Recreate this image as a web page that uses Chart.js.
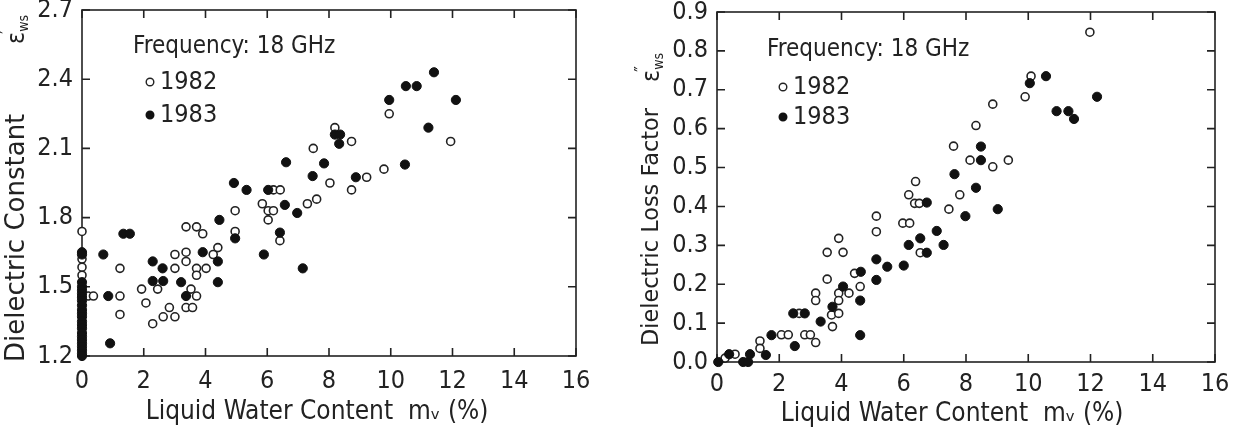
<!DOCTYPE html>
<html lang="en">
<head>
<meta charset="UTF-8">
<title>Dielectric constant and loss factor of wet snow, 18 GHz</title>
<script src="https://cdn.jsdelivr.net/npm/chart.js"></script>
<style>
  body { margin: 0; background: #fff; }
  canvas { position: absolute; top: 0; }
  #leftChart { left: 0; }
  #rightChart { left: 600px; }
</style>
</head>
<body>
<canvas id="leftChart" width="600" height="433"></canvas>
<canvas id="rightChart" width="637" height="433"></canvas>
<script>
// x axis shared by both panels
const xTickValues = [0, 2, 4, 6, 8, 10, 12, 14, 16];
const constTickValues = [1.2, 1.5, 1.8, 2.1, 2.4, 2.7];
const lossTickValues = [0, 0.1, 0.2, 0.3, 0.4, 0.5, 0.6, 0.7, 0.8, 0.9];

// left panel: dielectric constant, 1982 (open circles)
const const82X = [0, 0, 0, 0, 0, 0.2, 0.37,
  1.23, 1.23, 1.23, 1.93, 2.07, 2.29, 2.45, 2.63, 2.83, 3.01, 3.01, 3.01,
  3.37, 3.37, 3.37, 3.71, 3.91, 3.71, 3.71, 4.02, 3.53, 3.71, 3.37, 3.58,
  4.25, 4.4, 4.96, 4.96, 5.84, 6.03, 6.2, 6.03, 6.2, 6.42, 6.41, 7.3, 7.6,
  7.49, 8.03, 8.73, 9.22, 9.78, 8.19, 8.73, 9.95, 11.94];
const const82Y = [1.74, 1.62, 1.585, 1.55, 1.46, 1.46, 1.46,
  1.58, 1.46, 1.38, 1.49, 1.43, 1.34, 1.49, 1.37, 1.41, 1.37, 1.64, 1.58,
  1.65, 1.61, 1.76, 1.76, 1.73, 1.58, 1.55, 1.58, 1.49, 1.46, 1.41, 1.41,
  1.64, 1.67, 1.83, 1.74, 1.86, 1.83, 1.83, 1.79, 1.92, 1.92, 1.70, 1.86, 1.88,
  2.10, 1.95, 1.92, 1.975, 2.01, 2.19, 2.13, 2.25, 2.13];

// left panel: dielectric constant, 1983 (filled circles)
const const83X = [0, 0, 0, 0, 0, 0, 0, 0, 0, 0, 0, 0, 0, 0, 0, 0, 0, 0, 0, 0, 0, 0, 0,
  0.69, 1.34, 1.55, 0.85, 0.91, 2.29, 2.29, 2.63, 2.61, 3.21, 3.91, 3.37,
  4.4, 4.4, 4.45, 4.92, 4.96, 5.33, 5.89, 6.03, 6.57, 6.41, 7.15, 6.97,
  6.61, 7.47, 7.84, 8.87, 10.46, 8.19, 8.36, 8.33, 9.95, 10.49, 10.84,
  11.4, 11.22, 12.11];
const const83Y = [1.65, 1.64, 1.52, 1.50, 1.485, 1.47, 1.455, 1.44, 1.42, 1.40,
  1.385, 1.37, 1.35, 1.335, 1.32, 1.30, 1.285, 1.27, 1.255, 1.24, 1.225, 1.21, 1.20,
  1.64, 1.73, 1.73, 1.46, 1.255, 1.61, 1.525, 1.525, 1.58, 1.52, 1.65, 1.46,
  1.61, 1.52, 1.79, 1.95, 1.71, 1.92, 1.64, 1.92, 1.855, 1.735, 1.58, 1.82,
  2.04, 1.98, 2.035, 1.975, 2.03, 2.16, 2.16, 2.12, 2.31, 2.37, 2.37,
  2.43, 2.19, 2.31];

// right panel: loss factor, 1982
const loss82X = [0.26, 0.58, 1.38, 1.38, 2.07, 2.29, 2.64, 2.82, 3.0, 3.17, 3.17, 3.17,
  3.68, 3.71, 3.54, 3.54, 3.91, 4.05, 3.91, 3.91, 3.91, 4.24, 4.42, 4.6,
  5.12, 5.12, 5.97, 6.19, 6.16, 6.38, 6.35, 6.5, 6.53, 7.45, 7.8, 7.6,
  8.32, 8.86, 8.13, 9.36, 8.86, 9.9, 10.09, 11.98];
const loss82Y = [0.01, 0.02, 0.054, 0.035, 0.07, 0.07, 0.125, 0.07, 0.07, 0.05, 0.177, 0.158,
  0.121, 0.091, 0.213, 0.282, 0.318, 0.282, 0.177, 0.158, 0.125, 0.177, 0.228, 0.194,
  0.375, 0.335, 0.357, 0.357, 0.43, 0.464, 0.408, 0.408, 0.281, 0.393, 0.43, 0.555,
  0.608, 0.663, 0.519, 0.519, 0.502, 0.682, 0.735, 0.848];

// right panel: loss factor, 1983
const loss83X = [0.04, 0.39, 0.84, 1.0, 1.06, 1.57, 1.75, 2.5, 2.45, 2.82, 3.33, 3.71,
  4.05, 4.62, 4.6, 4.6, 5.12, 5.12, 5.47, 6.0, 6.16, 6.74, 6.53, 6.74, 7.06, 7.28,
  7.63, 8.48, 8.48, 8.32, 7.98, 9.02, 10.05, 10.57, 12.21, 10.91, 11.29, 11.47];
const loss83Y = [0.0, 0.02, 0.0, 0.0, 0.02, 0.018, 0.069, 0.041, 0.125, 0.125, 0.104, 0.142,
  0.194, 0.232, 0.158, 0.069, 0.264, 0.211, 0.245, 0.248, 0.301, 0.41, 0.318, 0.281, 0.337, 0.301,
  0.483, 0.554, 0.519, 0.448, 0.375, 0.393, 0.717, 0.735, 0.682, 0.645, 0.645, 0.625];

const FONT = "'DejaVu Sans Condensed', 'DejaVu Sans', sans-serif";
const WIDE = "'DejaVu Sans', sans-serif";
const INK = '#222';
Chart.defaults.font.family = FONT;
Chart.defaults.color = INK;

function toPoints(xs, ys) {
  return xs.map((x, i) => ({ x: x, y: ys[i] }));
}

// box with inward tick marks on all four sides, legend text and axis titles
const framePlugin = {
  id: 'frame',
  beforeDatasetsDraw(chart) {
    const { ctx, chartArea: a, scales } = chart;
    const len = 8;
    ctx.save();
    ctx.strokeStyle = INK;
    ctx.lineWidth = 1.6;
    ctx.strokeRect(a.left, a.top, a.width, a.height);
    ctx.beginPath();
    scales.x.ticks.forEach(t => {
      const px = scales.x.getPixelForValue(t.value);
      ctx.moveTo(px, a.bottom); ctx.lineTo(px, a.bottom - len);
      ctx.moveTo(px, a.top); ctx.lineTo(px, a.top + len);
    });
    scales.y.ticks.forEach(t => {
      const py = scales.y.getPixelForValue(t.value);
      ctx.moveTo(a.left, py); ctx.lineTo(a.left + len, py);
      ctx.moveTo(a.right, py); ctx.lineTo(a.right - len, py);
    });
    ctx.stroke();
    ctx.restore();
  },
  afterDraw(chart, args, opts) {
    const { ctx, chartArea: a } = chart;
    ctx.save();
    ctx.fillStyle = INK;
    ctx.font = '24px ' + FONT;
    ctx.textBaseline = 'middle';
    ctx.fillText('Frequency: 18 GHz', a.left + opts.noteX, a.top + opts.noteY);

    chart.data.datasets.forEach((ds, i) => {
      const mx = a.left + opts.keyX;
      const my = a.top + opts.keyY + i * opts.keyGap;
      ctx.beginPath();
      ctx.arc(mx, my, 3.8, 0, Math.PI * 2);
      ctx.fillStyle = ds.backgroundColor;
      ctx.fill();
      ctx.lineWidth = 1.4;
      ctx.strokeStyle = ds.borderColor;
      ctx.stroke();
      ctx.fillStyle = INK;
      ctx.font = '25px ' + FONT;
      ctx.fillText(ds.label, mx + 10, my);
    });

    // x title, a little left of the plot centre as in the original
    ctx.font = '26px ' + FONT;
    ctx.textAlign = 'center';
    ctx.fillText('Liquid Water Content  mᵥ (%)', (a.left + a.right) / 2 + opts.xTitleShift, opts.xTitleY);
    ctx.restore();

    // rotated y title, read bottom to top; the symbol sits apart near the top
    ctx.save();
    ctx.fillStyle = INK;
    ctx.textBaseline = 'middle';
    ctx.translate(opts.titleX, 0);
    ctx.rotate(-Math.PI / 2);
    ctx.font = '22px ' + WIDE;
    const size = 22 * opts.titleLen / ctx.measureText(opts.yTitle).width;
    ctx.font = size.toFixed(1) + 'px ' + WIDE;
    ctx.fillText(opts.yTitle, -opts.titleStart, 0);
    ctx.font = '25px ' + FONT;
    ctx.fillText('ε', -opts.symStart, 0);
    const ew = ctx.measureText('ε').width;
    ctx.font = '17px ' + FONT;
    ctx.fillText(opts.prime, -opts.symStart + ew - 2, -9);
    ctx.font = '14px ' + FONT;
    ctx.fillText('ws', -opts.symStart + ew, 7);
    ctx.restore();
  }
};

function makeChart(id, cfg) {
  return new Chart(document.getElementById(id), {
    type: 'scatter',
    data: {
      datasets: [
        {
          label: '1982', data: toPoints(cfg.x82, cfg.y82), order: 1,
          pointRadius: 4, pointBorderWidth: 1.6,
          borderColor: INK, backgroundColor: '#fff', clip: false
        },
        {
          label: '1983', data: toPoints(cfg.x83, cfg.y83), order: 0,
          pointRadius: 4.6, pointBorderWidth: 1,
          borderColor: '#111', backgroundColor: '#111', clip: false
        }
      ]
    },
    options: {
      responsive: false,
      animation: false,
      layout: { padding: { top: cfg.padTop, right: cfg.padRight, left: 0, bottom: 0 } },
      plugins: {
        legend: { display: false },
        tooltip: { enabled: false },
        frame: cfg.frame
      },
      scales: {
        x: {
          type: 'linear', min: 0, max: 16,
          grid: { display: false, drawTicks: false },
          border: { display: false },
          afterBuildTicks: s => { s.ticks = xTickValues.map(v => ({ value: v })); },
          ticks: { padding: cfg.xTickPad, font: { size: 25 }, callback: v => String(v) },
          afterFit: s => { s.height = cfg.xAxisH; s.paddingLeft = 0; s.paddingRight = 0; }
        },
        y: {
          type: 'linear', min: cfg.yTicks[0], max: cfg.yTicks[cfg.yTicks.length - 1],
          grid: { display: false, drawTicks: false },
          border: { display: false },
          afterBuildTicks: s => { s.ticks = cfg.yTicks.map(v => ({ value: v })); },
          ticks: { padding: 9, font: { size: 25 }, callback: v => Number(v).toFixed(1) },
          afterFit: s => { s.width = cfg.yAxisW; s.paddingTop = 0; s.paddingBottom = 0; }
        }
      }
    },
    plugins: [framePlugin]
  });
}

makeChart('leftChart', {
  x82: const82X, y82: const82Y, x83: const83X, y83: const83Y,
  yTicks: constTickValues,
  padTop: 10, padRight: 24, yAxisW: 82, xAxisH: 77, xTickPad: 10,
  frame: { noteX: 51, noteY: 37, keyX: 68, keyY: 72, keyGap: 33,
           xTitleShift: -12, xTitleY: 412,
           titleX: 17, titleStart: 362, titleLen: 248, symStart: 44,
           yTitle: 'Dielectric Constant', prime: '′' }
});

makeChart('rightChart', {
  x82: loss82X, y82: loss82Y, x83: loss83X, y83: loss83Y,
  yTicks: lossTickValues,
  padTop: 12, padRight: 22, yAxisW: 117, xAxisH: 71, xTickPad: 7,
  frame: { noteX: 50, noteY: 38, keyX: 66, keyY: 75, keyGap: 30,
           xTitleShift: -14, xTitleY: 414,
           titleX: 52, titleStart: 346, titleLen: 238, symStart: 82,
           yTitle: 'Dielectric Loss Factor', prime: '″' }
});
</script>
</body>
</html>
